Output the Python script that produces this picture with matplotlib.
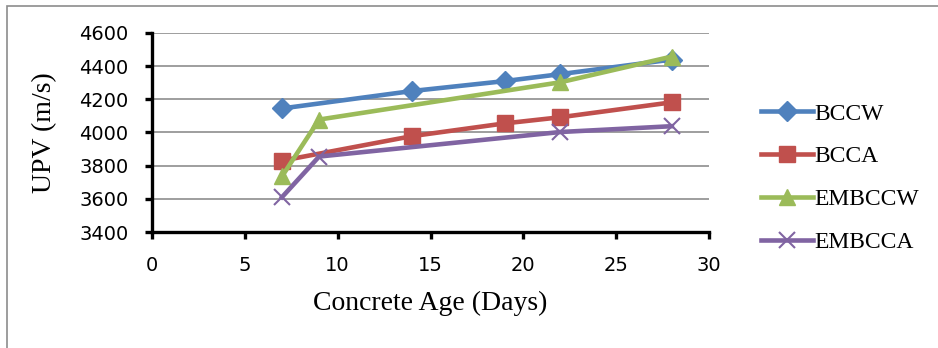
import matplotlib
matplotlib.use("Agg")
from matplotlib import pyplot as plt
from matplotlib.patches import Rectangle

# данные
days_full = [7, 14, 19, 22, 28]
bccw = [4145, 4250, 4310, 4352, 4440]
bcca = [3830, 3978, 4055, 4092, 4182]

days_emb = [7, 9, 22, 28]
embccw = [3735, 4078, 4303, 4458]
embcca = [3610, 3855, 4003, 4038]

x_ticks = [0, 5, 10, 15, 20, 25, 30]
y_ticks = [3400, 3600, 3800, 4000, 4200, 4400, 4600]

fig = plt.figure(figsize=(9.38, 3.48), dpi=100)
ax = fig.add_axes([152/938, 1-232/348, (709-152)/938, (232-33)/348])

# рамка вокруг рисунка
fig.patches.append(Rectangle((7/938, -0.01), 1.0, 1-6/348+0.01, transform=fig.transFigure,
                             fill=False, edgecolor='#8c8c8c', linewidth=1.2))

ax.plot(days_full, bccw, color='#4F81BD', lw=3.3, marker='D', ms=10, label='BCCW')
ax.plot(days_full, bcca, color='#C0504D', lw=3.3, marker='s', ms=12, label='BCCA')
ax.plot(days_emb, embccw, color='#9BBB59', lw=3.3, marker='^', ms=12, label='EMBCCW')
ax.plot(days_emb, embcca, color='#8064A2', lw=3.3, marker='x', ms=11, mew=1.5, label='EMBCCA')

ax.set_xlim(0, 30)
ax.set_ylim(3400, 4600)
ax.set_xticks(x_ticks)
ax.set_yticks(y_ticks)
ax.grid(axis='y', color='#969696', linewidth=1.3)
ax.set_axisbelow(True)
for s in ['top', 'right']:
    ax.spines[s].set_visible(False)
for s in ['left', 'bottom']:
    ax.spines[s].set_linewidth(2.4)
ax.tick_params(direction='out', length=5, width=2.4, labelsize=14)
ax.tick_params(axis='x', pad=12)
ax.tick_params(axis='y', pad=12)

ax.set_xlabel('Concrete Age (Days)', family='Liberation Serif', fontsize=20, labelpad=12)
ax.set_ylabel('UPV (m/s)', family='Liberation Serif', fontsize=20, labelpad=16)

ax.legend(loc='center left', bbox_to_anchor=(752/938, 1-178/348), bbox_transform=fig.transFigure,
          frameon=False, prop={'family': 'Liberation Serif', 'size': 17},
          handlelength=2.2, handletextpad=0.05, labelspacing=0.9, borderaxespad=0)

fig.savefig('out.png', dpi=100)
